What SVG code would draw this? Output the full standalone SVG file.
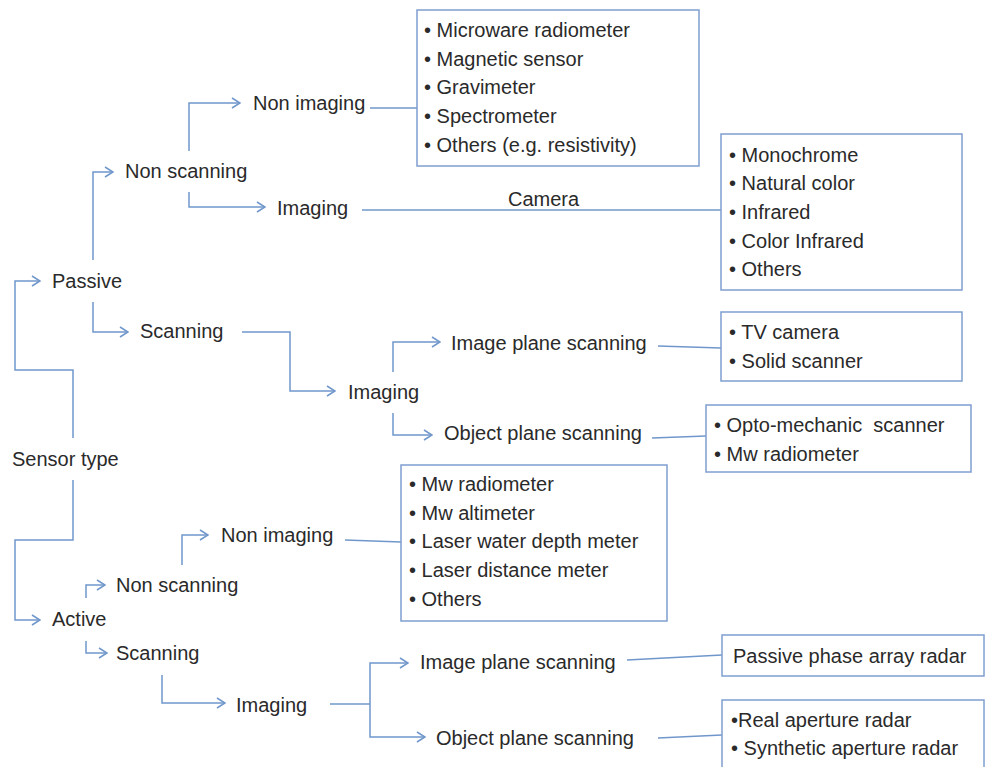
<svg xmlns="http://www.w3.org/2000/svg" width="986" height="767" viewBox="0 0 986 767">
<style>
text{font-family:"Liberation Sans",Arial,sans-serif;font-size:20px;fill:#2a2a2a}
.box{fill:#ffffff;stroke:#7f9fcf;stroke-width:1.5}
.c{fill:none;stroke:#7097cb;stroke-width:1.5}
.a{marker-end:url(#arr)}
</style>
<defs>
<marker id="arr" viewBox="0 0 10 12" refX="9" refY="6" markerWidth="10" markerHeight="12" markerUnits="userSpaceOnUse" orient="auto">
<path d="M1,1 L9,6 L1,11" fill="none" stroke="#7097cb" stroke-width="1.5"/>
</marker>
</defs>
<rect width="986" height="767" fill="#ffffff"/>
<g id="connectors">
<path class="c a" d="M73,438 V370 H15 V281 H40"/>
<path class="c a" d="M73,480 V540 H15 V620 H40"/>
<path class="c a" d="M93,260 V172 H113"/>
<path class="c a" d="M93,302 V332 H128"/>
<path class="c a" d="M189,151 V103 H240"/>
<path class="c a" d="M189,192 V207 H265"/>
<path class="c" d="M370,108 H417"/>
<path class="c" d="M362,210 H721"/>
<path class="c a" d="M242,332 H290 V391 H335"/>
<path class="c a" d="M393,372 V342 H440"/>
<path class="c a" d="M393,413 V435 H432"/>
<path class="c" d="M658,346 L721,348"/>
<path class="c" d="M652,438 L706,436"/>
<path class="c" d="M345,540 L401,542"/>
<path class="c a" d="M86,598 V585 H105"/>
<path class="c a" d="M182,565 V535 H208"/>
<path class="c a" d="M86,641 V653 H107"/>
<path class="c a" d="M162,675 V703 H225"/>
<path class="c" d="M330,704 H370"/>
<path class="c a" d="M370,704 V663 H408"/>
<path class="c a" d="M370,704 V737 H425"/>
<path class="c" d="M627,660 L722,655"/>
<path class="c" d="M658,738 L722,735"/>
</g>
<g id="sensor-type"><text x="12" y="466">Sensor type</text></g>
<g id="passive"><text x="52" y="288">Passive</text></g>
<g id="passive-non-scanning"><text x="125" y="178">Non scanning</text></g>
<g id="passive-non-imaging"><text x="253" y="110">Non imaging</text></g>
<g id="passive-ns-imaging"><text x="277" y="215">Imaging</text></g>
<g id="camera-label"><text x="508" y="206">Camera</text></g>
<g id="passive-scanning"><text x="140" y="338">Scanning</text></g>
<g id="passive-s-imaging"><text x="348" y="399">Imaging</text></g>
<g id="passive-image-plane"><text x="451" y="350">Image plane scanning</text></g>
<g id="passive-object-plane"><text x="444" y="440">Object plane scanning</text></g>
<g id="active"><text x="52" y="626">Active</text></g>
<g id="active-non-scanning"><text x="116" y="592">Non scanning</text></g>
<g id="active-non-imaging"><text x="221" y="542">Non imaging</text></g>
<g id="active-scanning"><text x="116" y="660">Scanning</text></g>
<g id="active-imaging"><text x="236" y="712">Imaging</text></g>
<g id="active-image-plane"><text x="420" y="669">Image plane scanning</text></g>
<g id="active-object-plane"><text x="436" y="745">Object plane scanning</text></g>
<g id="box-nonimaging-passive">
<rect class="box" x="417" y="10" width="282" height="156"/>
<text x="424" y="37">• Microware radiometer</text>
<text x="424" y="66">• Magnetic sensor</text>
<text x="424" y="94">• Gravimeter</text>
<text x="424" y="123">• Spectrometer</text>
<text x="424" y="152">• Others (e.g. resistivity)</text>
</g>
<g id="box-camera">
<rect class="box" x="721" y="134" width="241" height="156"/>
<text x="729" y="162">• Monochrome</text>
<text x="729" y="190">• Natural color</text>
<text x="729" y="219">• Infrared</text>
<text x="729" y="248">• Color Infrared</text>
<text x="729" y="276">• Others</text>
</g>
<g id="box-image-plane-passive">
<rect class="box" x="721" y="312" width="241" height="69"/>
<text x="729" y="339">• TV camera</text>
<text x="729" y="368">• Solid scanner</text>
</g>
<g id="box-object-plane-passive">
<rect class="box" x="706" y="405" width="265" height="67"/>
<text x="714" y="432" xml:space="preserve">• Opto-mechanic  scanner</text>
<text x="714" y="461">• Mw radiometer</text>
</g>
<g id="box-nonimaging-active">
<rect class="box" x="401" y="465" width="266" height="156"/>
<text x="409" y="491">• Mw radiometer</text>
<text x="409" y="520">• Mw altimeter</text>
<text x="409" y="548">• Laser water depth meter</text>
<text x="409" y="577">• Laser distance meter</text>
<text x="409" y="606">• Others</text>
</g>
<g id="box-image-plane-active">
<rect class="box" x="722" y="635" width="262" height="41"/>
<text x="733" y="663">Passive phase array radar</text>
</g>
<g id="box-object-plane-active">
<rect class="box" x="722" y="700" width="262" height="80"/>
<text x="731" y="727">•Real aperture radar</text>
<text x="731" y="755">• Synthetic aperture radar</text>
</g>
</svg>
